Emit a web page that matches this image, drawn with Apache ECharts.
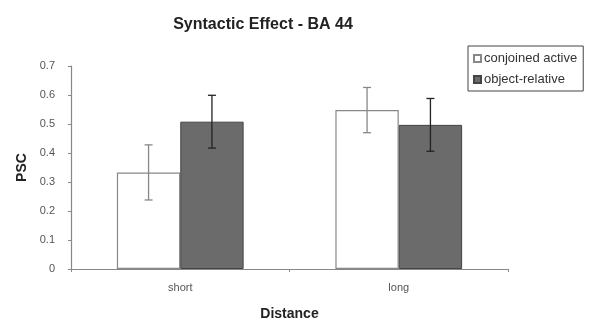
<!DOCTYPE html>
<html><head><meta charset="utf-8">
<script src="https://cdn.jsdelivr.net/npm/echarts@6/dist/echarts.min.js"></script>
<style>html,body{margin:0;padding:0;background:#fff}#c{width:593px;height:323px}</style>
</head><body><div id="c"></div>
<script>
var categories = ['short', 'long'];
var conjoinedActive = [0.333, 0.548];
var conjoinedErr = [0.095, 0.078];
var objectRelative = [0.508, 0.497];
var objectErr = [0.091, 0.091];
var yTicks = [0, 0.1, 0.2, 0.3, 0.4, 0.5, 0.6, 0.7];

var FONT = '"Liberation Sans", Arial, sans-serif';
var CAT_GAP = 0.42;

function errSeries(name, vals, errs, idx, color) {
  return {
    type: 'custom', name: name + ' err', silent: true, z: 10,
    data: vals.map(function (v, i) { return [i, v - errs[i], v + errs[i]]; }),
    renderItem: function (params, api) {
      var lo = api.coord([api.value(0), api.value(1)]);
      var hi = api.coord([api.value(0), api.value(2)]);
      var band = api.size([1, 0])[0];
      var barW = band * (1 - CAT_GAP) / 2;
      var x = lo[0] + (idx === 0 ? -barW / 2 : barW / 2);
      var cap = 4;
      var st = { stroke: color, lineWidth: 1.3 };
      return { type: 'group', children: [
        { type: 'line', shape: { x1: x, y1: lo[1], x2: x, y2: hi[1] }, style: st },
        { type: 'line', shape: { x1: x - cap, y1: lo[1], x2: x + cap, y2: lo[1] }, style: st },
        { type: 'line', shape: { x1: x - cap, y1: hi[1], x2: x + cap, y2: hi[1] }, style: st }
      ]};
    }
  };
}

var chart = echarts.init(document.getElementById('c'), null, { renderer: 'canvas' });
chart.setOption({
  animation: false,
  backgroundColor: '#fff',
  title: {
    text: 'Syntactic Effect - BA 44', left: 258, top: 12, textAlign: 'center',
    textStyle: { fontFamily: FONT, fontSize: 16, fontWeight: 'bold', color: '#222' }
  },
  legend: {
    data: ['conjoined active', 'object-relative'],
    orient: 'vertical', left: 468, top: 46,
    padding: [6, 6, 5, 5], itemGap: 8,
    borderColor: '#444', borderWidth: 1,
    itemWidth: 7, itemHeight: 7,
    textStyle: { fontFamily: FONT, fontSize: 13, color: '#333', padding: [0, 0, 0, -2] },
    icon: 'rect'
  },
  grid: { left: 71, top: 66, width: 437, height: 203, containLabel: false, outerBoundsMode: 'none' },
  xAxis: {
    type: 'category', data: categories,
    name: 'Distance', nameLocation: 'middle', nameGap: 38,
    nameTextStyle: { fontFamily: FONT, fontSize: 14, fontWeight: 'bold', color: '#222' },
    axisLine: { lineStyle: { color: '#888', width: 1.2 } },
    axisTick: { show: true, length: 3, lineStyle: { color: '#888' } },
    axisLabel: { fontFamily: FONT, fontSize: 11, color: '#555', margin: 13 }
  },
  yAxis: {
    type: 'value', min: 0, max: 0.7, interval: 0.1,
    name: 'PSC', nameLocation: 'middle', nameGap: 42, nameRotate: 90,
    nameTextStyle: { fontFamily: FONT, fontSize: 14, fontWeight: 'bold', color: '#222' },
    splitLine: { show: false },
    axisLine: { show: true, lineStyle: { color: '#888', width: 1.2 } },
    axisTick: { show: true, length: 3, lineStyle: { color: '#888' } },
    axisLabel: {
      fontFamily: FONT, fontSize: 11, color: '#555', margin: 16,
      formatter: function (v) { var r = Math.round(v * 10) / 10; return yTicks.indexOf(r) >= 0 ? String(r) : ''; }
    }
  },
  series: [
    {
      name: 'conjoined active', type: 'bar', data: conjoinedActive,
      barGap: '0%', barCategoryGap: (CAT_GAP * 100) + '%',
      itemStyle: { color: '#ffffff', borderColor: '#888', borderWidth: 1.2 }
    },
    {
      name: 'object-relative', type: 'bar', data: objectRelative,
      itemStyle: { color: '#6b6b6b', borderColor: '#444', borderWidth: 1 }
    },
    errSeries('conjoined active', conjoinedActive, conjoinedErr, 0, '#888'),
    errSeries('object-relative', objectRelative, objectErr, 1, '#222')
  ]
});
</script>
</body></html>
